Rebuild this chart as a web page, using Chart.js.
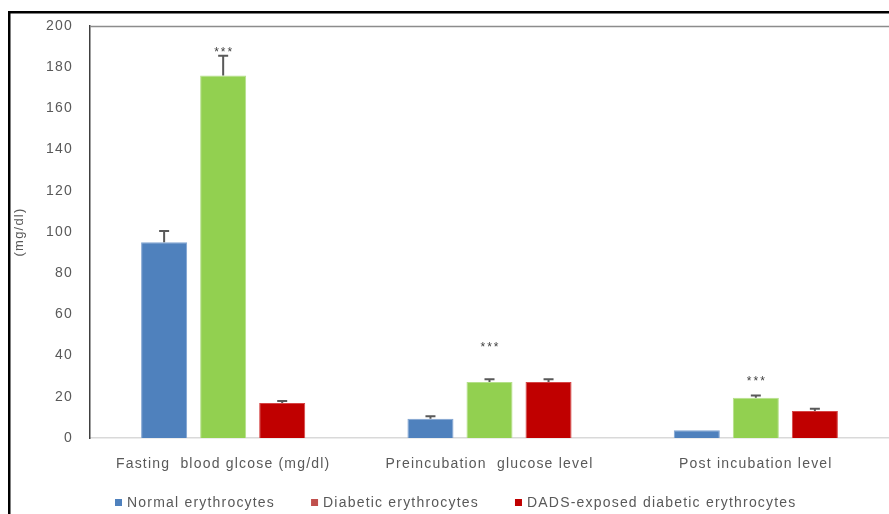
<!DOCTYPE html>
<html>
<head>
<meta charset="utf-8">
<script src="https://cdn.jsdelivr.net/npm/chart.js@4.4.1/dist/chart.umd.min.js"></script>
<style>
  html, body { margin: 0; padding: 0; background: #ffffff; }
  #wrap { width: 889px; height: 514px; }
</style>
</head>
<body>
<div id="wrap"><canvas id="c" width="889" height="514"></canvas></div>
<script>
// ---- data ----
const categories = ["Fasting  blood glcose (mg/dl)", "Preincubation  glucose level", "Post incubation level"];
const seriesNames = ["Normal erythrocytes", "Diabetic erythrocytes", "DADS-exposed diabetic erythrocytes"];
const normalValues   = [95, 9.3, 3.8];
const diabeticValues = [176, 27.2, 19.5];
const dadsValues     = [17, 27.2, 13.1];
const normalErr   = [5.5, 1.2, 0];
const diabeticErr = [9.5, 1.3, 1.1];
const dadsErr     = [1.0, 1.3, 1.1];
const starLabels  = ["***", "***", "***"];
const starValues  = [185.5, 42, 25.7];
const yTicksMin = 0, yTicksMax = 200, yTickStep = 20;
const yTitle = "(mg/dl)";

// ---- styles ----
const barColors = ["#4F81BD", "#92D050", "#C00000"];
const barEdges  = ["#7FA3D1", "#B5E08A", "#D64545"];
const legendColors = ["#4F81BD", "#C0504D", "#C00000"];
const FONT = "'Liberation Sans', Arial, sans-serif";
const TEXT = "#595959";

function setSpacing(chart) {
  if ('letterSpacing' in chart.ctx) chart.ctx.letterSpacing = '1.2px';
}

const decorPlugin = {
  id: 'decor',
  beforeUpdate(chart) { setSpacing(chart); },
  beforeLayout(chart) { setSpacing(chart); },
  beforeDraw(chart) {
    setSpacing(chart);
    const ctx = chart.ctx;
    ctx.save();
    ctx.fillStyle = '#000000';
    ctx.fillRect(8, 11, 881, 2.5);
    ctx.fillRect(8, 11, 2.5, 503);
    ctx.restore();
  },
  afterDatasetsDraw(chart) {
    const ctx = chart.ctx;
    const y = chart.scales.y;
    const errs = [normalErr, diabeticErr, dadsErr];
    const vals = [normalValues, diabeticValues, dadsValues];
    ctx.save();
    ctx.strokeStyle = '#595959';
    ctx.lineWidth = 2;
    for (let d = 0; d < 3; d++) {
      const meta = chart.getDatasetMeta(d);
      meta.data.forEach((bar, i) => {
        const e = errs[d][i];
        if (!e) return;
        const y0 = y.getPixelForValue(vals[d][i]);
        const y1 = y.getPixelForValue(vals[d][i] + e);
        ctx.beginPath();
        ctx.moveTo(bar.x, y0);
        ctx.lineTo(bar.x, y1);
        ctx.moveTo(bar.x - 5, y1);
        ctx.lineTo(bar.x + 5, y1);
        ctx.stroke();
      });
    }
    // significance stars above diabetic bars
    const meta = chart.getDatasetMeta(1);
    ctx.fillStyle = '#404040';
    ctx.font = "12px " + FONT;
    ctx.textAlign = 'center';
    ctx.textBaseline = 'alphabetic';
    if ('letterSpacing' in ctx) ctx.letterSpacing = '2px';
    meta.data.forEach((bar, i) => {
      ctx.fillText(starLabels[i], bar.x + 1, y.getPixelForValue(starValues[i]));
    });
    ctx.restore();
  },
  afterDraw(chart) {
    const ctx = chart.ctx;
    const a = chart.chartArea;
    ctx.save();
    // top frame line of plot area
    ctx.strokeStyle = '#8c8c8c';
    ctx.lineWidth = 1.5;
    ctx.beginPath();
    ctx.moveTo(a.left, a.top + 0.5);
    ctx.lineTo(chart.width, a.top + 0.5);
    ctx.stroke();
    // legend
    if ('letterSpacing' in ctx) ctx.letterSpacing = '1.2px';
    ctx.font = "14px " + FONT;
    ctx.textBaseline = 'middle';
    ctx.textAlign = 'left';
    let x = 115;
    const ly = 503;
    seriesNames.forEach((name, i) => {
      ctx.fillStyle = legendColors[i];
      ctx.fillRect(x, ly - 4, 7, 7);
      ctx.fillStyle = TEXT;
      ctx.fillText(name, x + 12, ly);
      x += 12 + ctx.measureText(name).width + 36;
    });
    ctx.restore();
  }
};

const datasets = [normalValues, diabeticValues, dadsValues].map((vals, i) => ({
  label: seriesNames[i],
  data: vals,
  backgroundColor: barColors[i],
  borderColor: barEdges[i],
  borderWidth: 1,
  categoryPercentage: 0.665,
  barPercentage: 0.78
}));

new Chart(document.getElementById('c'), {
  type: 'bar',
  data: { labels: categories, datasets },
  plugins: [decorPlugin],
  options: {
    responsive: false,
    maintainAspectRatio: false,
    devicePixelRatio: 1,
    animation: false,
    layout: { padding: { top: 26, left: 0, right: 0, bottom: 0 } },
    plugins: {
      legend: { display: false },
      tooltip: { enabled: false },
      title: { display: false }
    },
    scales: {
      x: {
        afterFit(s) { s.height = 76; },
        grid: { display: false },
        border: { display: true, color: '#d9d9d9', width: 1.5 },
        ticks: { color: TEXT, font: { family: FONT, size: 14 }, padding: 10, maxRotation: 0, autoSkip: false }
      },
      y: {
        min: yTicksMin, max: yTicksMax,
        afterFit(s) { s.width = 90; },
        grid: { display: false },
        border: { display: true, color: '#404040', width: 1.5 },
        ticks: { stepSize: yTickStep, color: TEXT, font: { family: FONT, size: 14 }, padding: 9 },
        title: { display: true, text: yTitle, color: TEXT, font: { family: FONT, size: 13 }, padding: { top: 12, bottom: 0 } }
      }
    }
  }
});
</script>
</body>
</html>
